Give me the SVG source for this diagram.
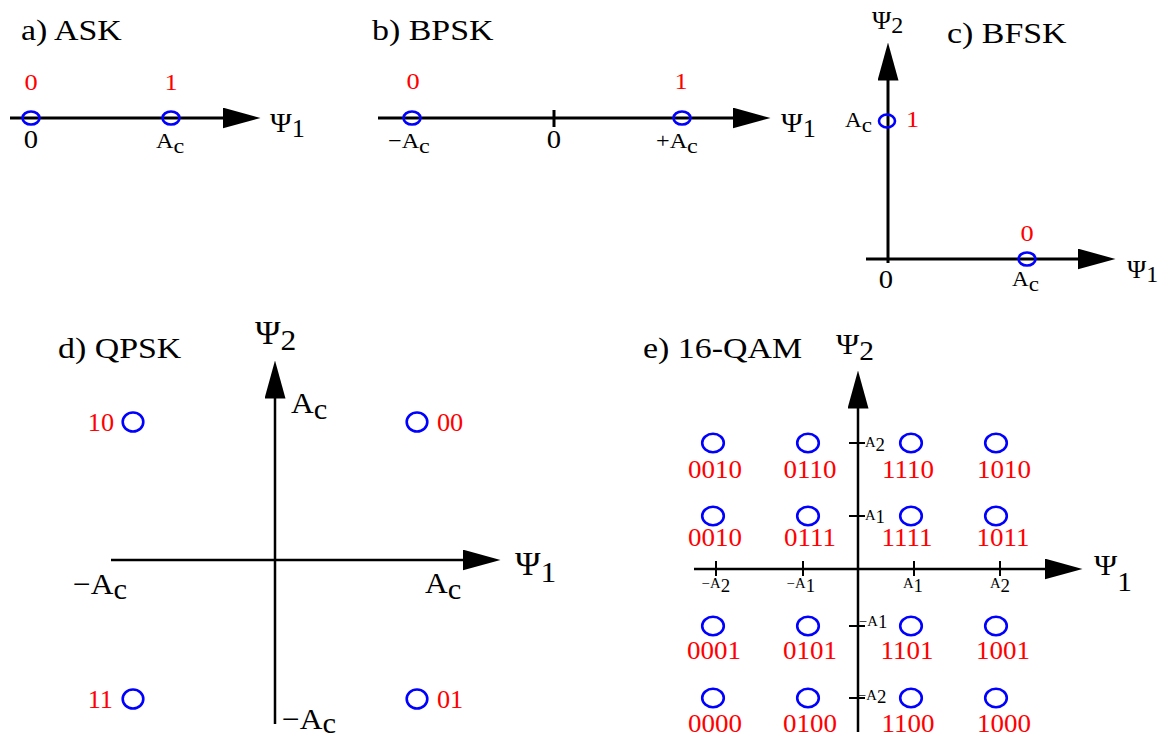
<svg xmlns="http://www.w3.org/2000/svg" width="1160" height="738" viewBox="0 0 1160 738">
<defs>
<style>
text { font-family: "Liberation Serif", "Times New Roman", serif; fill: #000; }
.title { font-size: 30px; }
.red { fill: #ff0000; }
.mid { text-anchor: middle; }
.end { text-anchor: end; }
.pt { fill: none; stroke: #0000ff; stroke-width: 2.6; }
.ax { fill: none; stroke: #000; stroke-width: 3; }
.ax2 { fill: none; stroke: #000; stroke-width: 2.5; }
.tick { fill: none; stroke: #000; stroke-width: 2; }
</style>
<marker id="ah" markerUnits="userSpaceOnUse" viewBox="0 0 38 21" markerWidth="38" markerHeight="21" refX="0.5" refY="10.5" orient="auto">
<path d="M0,0 L38,10.5 L0,21 z" fill="#000"/>
</marker>
</defs>
<rect width="1160" height="738" fill="#fff"/>

<g id="connectors">
<path class="ax" d="M10 118 H223" marker-end="url(#ah)"/>
<path class="ax" d="M378 118 H733" marker-end="url(#ah)"/>
<path class="ax" d="M554 110 V127"/>
<path class="ax" d="M888 263 V80" marker-end="url(#ah)"/>
<path class="ax" d="M866 259 H1078" marker-end="url(#ah)"/>
<path class="ax2" d="M275 724 V398" marker-end="url(#ah)"/>
<path class="ax2" d="M111 560 H463" marker-end="url(#ah)"/>
<path class="ax2" d="M858 732 V408" marker-end="url(#ah)"/>
<path class="ax2" d="M694 569 H1045" marker-end="url(#ah)"/>
<path class="tick" d="M716 561 V576 M803 561 V576 M914 561 V576 M1000 561 V576"/>
<path class="tick" d="M849 443 H865 M849 516 H865 M849 626 H865 M849 698 H865"/>
</g>

<g id="ask">
<text class="title" transform="translate(21 40) scale(1.13 1)">a) ASK</text>
<g id="ask-0"><ellipse class="pt" cx="31" cy="118" rx="8.5" ry="6.5"/><text class="red mid" font-size="24" transform="translate(31 90) scale(1.1 1)">0</text></g>
<g id="ask-1"><ellipse class="pt" cx="171" cy="118" rx="8.5" ry="6.5"/><text class="red mid" font-size="24" transform="translate(171 90) scale(1.1 1)">1</text></g>
<text class="mid" font-size="26" transform="translate(31 148) scale(1.1 1)">0</text>
<text transform="translate(156 148) scale(1.1 1)"><tspan font-size="22">A</tspan><tspan font-size="22" dy="5">c</tspan></text>
<text transform="translate(270 132) scale(1.05 1)"><tspan font-size="28">Ψ</tspan><tspan font-size="25" dy="5">1</tspan></text>
</g>

<g id="bpsk">
<text class="title" transform="translate(372 40) scale(1.13 1)">b) BPSK</text>
<g id="bpsk-0"><ellipse class="pt" cx="412" cy="118" rx="8.5" ry="6.5"/><text class="red mid" font-size="24" transform="translate(413 89) scale(1.1 1)">0</text></g>
<g id="bpsk-1"><ellipse class="pt" cx="682" cy="118" rx="8.5" ry="6.5"/><text class="red mid" font-size="24" transform="translate(681 89) scale(1.1 1)">1</text></g>
<text transform="translate(388 148) scale(1.1 1)"><tspan font-size="22">−A</tspan><tspan font-size="22" dy="5">c</tspan></text>
<text class="mid" font-size="26" transform="translate(554 148) scale(1.1 1)">0</text>
<text transform="translate(656 148) scale(1.1 1)"><tspan font-size="22">+A</tspan><tspan font-size="22" dy="5">c</tspan></text>
<text transform="translate(781 132) scale(1.05 1)"><tspan font-size="28">Ψ</tspan><tspan font-size="25" dy="5">1</tspan></text>
</g>

<g id="bfsk">
<text class="title" transform="translate(947 43) scale(1.13 1)">c) BFSK</text>
<text transform="translate(872 29) scale(1.0 1)"><tspan font-size="26">Ψ</tspan><tspan font-size="24" dy="4">2</tspan></text>
<g id="bfsk-1"><ellipse class="pt" cx="887" cy="121" rx="8" ry="6.5"/><text class="red" font-size="24" transform="translate(906 127) scale(1.1 1)">1</text></g>
<text transform="translate(845 127) scale(1.05 1)"><tspan font-size="22">A</tspan><tspan font-size="22" dy="5">c</tspan></text>
<g id="bfsk-0"><ellipse class="pt" cx="1027" cy="259" rx="8.5" ry="6.5"/><text class="red mid" font-size="24" transform="translate(1027 241) scale(1.1 1)">0</text></g>
<text class="mid" font-size="26" transform="translate(886 288) scale(1.1 1)">0</text>
<text transform="translate(1012 286) scale(1.05 1)"><tspan font-size="22">A</tspan><tspan font-size="22" dy="5">c</tspan></text>
<text transform="translate(1127 278) scale(1.0 1)"><tspan font-size="26">Ψ</tspan><tspan font-size="24" dy="4">1</tspan></text>
</g>

<g id="qpsk">
<text class="title" transform="translate(58 358) scale(1.13 1)">d) QPSK</text>
<text transform="translate(255 344) scale(1.05 1)"><tspan font-size="33">Ψ</tspan><tspan font-size="30" dy="6">2</tspan></text>
<text transform="translate(515 575) scale(1.05 1)"><tspan font-size="33">Ψ</tspan><tspan font-size="30" dy="7">1</tspan></text>
<text transform="translate(291 413) scale(1.05 1)"><tspan font-size="30">A</tspan><tspan font-size="29" dy="6">c</tspan></text>
<text transform="translate(73 594) scale(1.05 1)"><tspan font-size="30">−A</tspan><tspan font-size="29" dy="5">c</tspan></text>
<text transform="translate(425 593) scale(1.05 1)"><tspan font-size="30">A</tspan><tspan font-size="29" dy="6">c</tspan></text>
<text transform="translate(282 729) scale(1.05 1)"><tspan font-size="30">−A</tspan><tspan font-size="29" dy="4">c</tspan></text>
<g id="qpsk-10"><ellipse class="pt" cx="133" cy="422" rx="10.3" ry="9.5"/><text class="red end" font-size="25" transform="translate(114 431) scale(1.05 1)">10</text></g>
<g id="qpsk-00"><ellipse class="pt" cx="417" cy="422" rx="10.3" ry="9.5"/><text class="red" font-size="25" transform="translate(437 431) scale(1.05 1)">00</text></g>
<g id="qpsk-11"><ellipse class="pt" cx="133" cy="699" rx="10.3" ry="9.5"/><text class="red end" font-size="25" transform="translate(113 708) scale(1.05 1)">11</text></g>
<g id="qpsk-01"><ellipse class="pt" cx="417" cy="699" rx="10.3" ry="9.5"/><text class="red" font-size="25" transform="translate(437 708) scale(1.05 1)">01</text></g>
</g>

<g id="qam16">
<text class="title" transform="translate(643 358) scale(1.13 1)">e) 16-QAM</text>
<text transform="translate(836 354) scale(1.05 1)"><tspan font-size="30">Ψ</tspan><tspan font-size="28" dy="6">2</tspan></text>
<text transform="translate(1094 575) scale(1.05 1)"><tspan font-size="30">Ψ</tspan><tspan font-size="28" dy="16">1</tspan></text>
<g id="qam-ticklabels">
<text class="mid" transform="translate(716 588) scale(1.05 1)"><tspan font-size="14">−A</tspan><tspan font-size="18" dy="4">2</tspan></text>
<text class="mid" transform="translate(801 588) scale(1.05 1)"><tspan font-size="14">−A</tspan><tspan font-size="18" dy="4">1</tspan></text>
<text class="mid" transform="translate(913 588) scale(1.05 1)"><tspan font-size="14">A</tspan><tspan font-size="18" dy="4">1</tspan></text>
<text class="mid" transform="translate(1000 588) scale(1.05 1)"><tspan font-size="14">A</tspan><tspan font-size="18" dy="4">2</tspan></text>
<text transform="translate(865 447) scale(1.05 1)"><tspan font-size="14">A</tspan><tspan font-size="18" dy="4">2</tspan></text>
<text transform="translate(865 520) scale(1.05 1)"><tspan font-size="14">A</tspan><tspan font-size="18" dy="3">1</tspan></text>
<text transform="translate(859 626) scale(1.05 1)"><tspan font-size="14">−A</tspan><tspan font-size="18" dy="2">1</tspan></text>
<text transform="translate(858 700) scale(1.05 1)"><tspan font-size="14">−A</tspan><tspan font-size="18" dy="3">2</tspan></text>
</g>
<g id="qam-0010a"><ellipse class="pt" cx="713" cy="443" rx="10.8" ry="9.2"/><text class="red mid" font-size="25" transform="translate(715 478) scale(1.08 1)">0010</text></g>
<g id="qam-0110"><ellipse class="pt" cx="808" cy="443" rx="10.8" ry="9.2"/><text class="red mid" font-size="25" transform="translate(810 478) scale(1.08 1)">0110</text></g>
<g id="qam-1110"><ellipse class="pt" cx="911" cy="443" rx="10.8" ry="9.2"/><text class="red mid" font-size="25" transform="translate(908 478) scale(1.08 1)">1110</text></g>
<g id="qam-1010"><ellipse class="pt" cx="996" cy="443" rx="10.8" ry="9.2"/><text class="red mid" font-size="25" transform="translate(1004 478) scale(1.08 1)">1010</text></g>
<g id="qam-0010b"><ellipse class="pt" cx="713" cy="516" rx="10.8" ry="9.2"/><text class="red mid" font-size="25" transform="translate(715 546) scale(1.08 1)">0010</text></g>
<g id="qam-0111"><ellipse class="pt" cx="808" cy="516" rx="10.8" ry="9.2"/><text class="red mid" font-size="25" transform="translate(810 546) scale(1.08 1)">0111</text></g>
<g id="qam-1111"><ellipse class="pt" cx="911" cy="516" rx="10.8" ry="9.2"/><text class="red mid" font-size="25" transform="translate(907 546) scale(1.08 1)">1111</text></g>
<g id="qam-1011"><ellipse class="pt" cx="996" cy="516" rx="10.8" ry="9.2"/><text class="red mid" font-size="25" transform="translate(1003 546) scale(1.08 1)">1011</text></g>
<g id="qam-0001"><ellipse class="pt" cx="713" cy="626" rx="10.8" ry="9.2"/><text class="red mid" font-size="25" transform="translate(714 659) scale(1.08 1)">0001</text></g>
<g id="qam-0101"><ellipse class="pt" cx="808" cy="626" rx="10.8" ry="9.2"/><text class="red mid" font-size="25" transform="translate(810 659) scale(1.08 1)">0101</text></g>
<g id="qam-1101"><ellipse class="pt" cx="911" cy="626" rx="10.8" ry="9.2"/><text class="red mid" font-size="25" transform="translate(907 659) scale(1.08 1)">1101</text></g>
<g id="qam-1001"><ellipse class="pt" cx="996" cy="626" rx="10.8" ry="9.2"/><text class="red mid" font-size="25" transform="translate(1003 659) scale(1.08 1)">1001</text></g>
<g id="qam-0000"><ellipse class="pt" cx="713" cy="698" rx="10.8" ry="9.2"/><text class="red mid" font-size="25" transform="translate(715 732) scale(1.08 1)">0000</text></g>
<g id="qam-0100"><ellipse class="pt" cx="808" cy="698" rx="10.8" ry="9.2"/><text class="red mid" font-size="25" transform="translate(810 732) scale(1.08 1)">0100</text></g>
<g id="qam-1100"><ellipse class="pt" cx="911" cy="698" rx="10.8" ry="9.2"/><text class="red mid" font-size="25" transform="translate(908 732) scale(1.08 1)">1100</text></g>
<g id="qam-1000"><ellipse class="pt" cx="996" cy="698" rx="10.8" ry="9.2"/><text class="red mid" font-size="25" transform="translate(1004 732) scale(1.08 1)">1000</text></g>
</g>
</svg>
